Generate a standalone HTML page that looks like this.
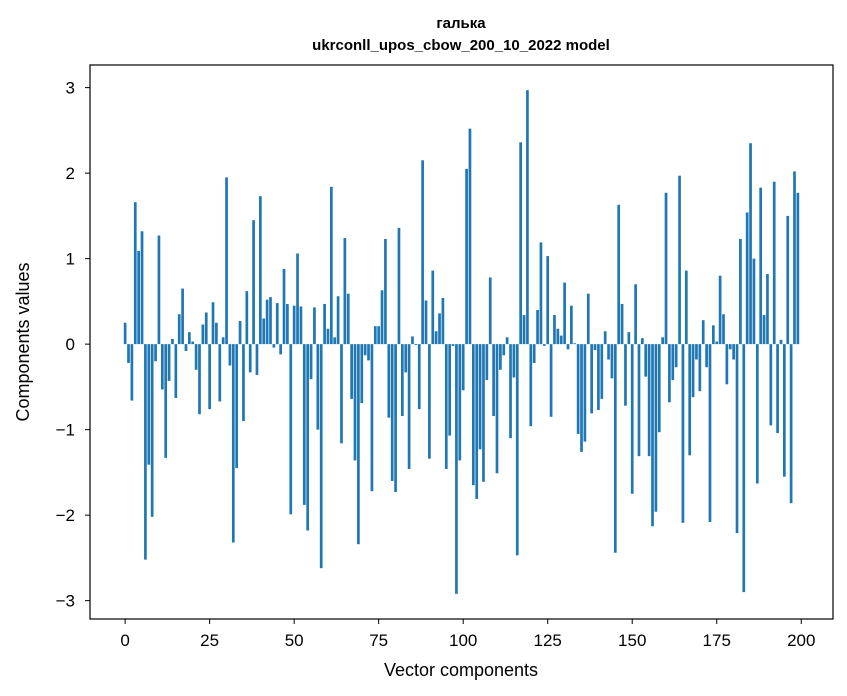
<!DOCTYPE html>
<html><head><meta charset="utf-8"><style>
body{margin:0;background:#fff;width:847px;height:696px;overflow:hidden}
svg{display:block;font-family:"Liberation Sans",sans-serif}
</style></head><body>
<svg id="chart" width="847" height="696">
<text x="461" y="28" text-anchor="middle" font-size="15" font-weight="bold">галька</text>
<text x="461" y="50" text-anchor="middle" font-size="15" font-weight="bold">ukrconll_upos_cbow_200_10_2022 model</text>
<g id="bars"></g>
<g id="axes"></g>
<text x="461" y="676" text-anchor="middle" font-size="18">Vector components</text>
<text transform="translate(29,342) rotate(-90)" text-anchor="middle" font-size="18">Components values</text>
</svg>
<script>
const values = [0.25,-0.22,-0.66,1.66,1.09,1.32,-2.52,-1.41,-2.02,-0.20,
1.27,-0.53,-1.33,-0.43,0.06,-0.63,0.35,0.65,-0.08,0.14,
0.03,-0.30,-0.82,0.23,0.37,-0.76,0.49,0.25,-0.67,0.08,
1.95,-0.25,-2.32,-1.45,0.27,-0.90,0.62,-0.33,1.45,-0.36,
1.73,0.30,0.52,0.55,-0.04,0.48,-0.12,0.88,0.47,-1.99,
0.45,1.06,0.44,-1.88,-2.18,-0.41,0.43,-1.00,-2.62,0.47,
0.18,1.84,0.08,0.56,-1.16,1.24,0.59,-0.64,-1.36,-2.34,
-0.69,-0.13,-0.19,-1.72,0.21,0.21,0.63,1.23,-0.86,-1.60,
-1.73,1.36,-0.84,-0.33,-1.46,0.09,-0.01,-0.76,2.15,0.51,
-1.34,0.86,0.15,0.36,0.54,-1.46,-1.07,-0.02,-2.92,-1.36,
-0.54,2.05,2.52,-1.65,-1.81,-1.23,-1.61,-0.42,0.78,-0.84,
-1.51,-0.30,-0.13,0.08,-1.10,-0.39,-2.47,2.36,0.34,2.97,
-0.96,-0.22,0.40,1.19,-0.02,1.03,-0.85,0.34,0.18,0.10,
0.72,-0.06,0.45,0.01,-1.05,-1.26,-1.14,0.59,-0.81,-0.07,
-0.77,-0.64,0.15,-0.18,-0.40,-2.44,1.63,0.47,-0.72,0.14,
-1.75,0.70,-1.31,0.07,-0.38,-1.31,-2.13,-1.96,-1.03,0.08,
1.77,-0.68,-0.42,-0.27,1.97,-2.09,0.86,-1.30,-0.62,-0.18,
-0.55,0.28,-0.27,-2.08,0.22,0.03,0.80,0.35,-0.47,-0.06,
-0.18,-2.21,1.23,-2.90,1.54,2.35,1.00,-1.63,1.83,0.34,
0.82,-0.95,1.90,-1.04,0.05,-1.55,1.50,-1.86,2.02,1.77];
const xTicks = [0,25,50,75,100,125,150,175,200];
const yTicks = [-3,-2,-1,0,1,2,3];
const yTickLabels = ["\u22123","\u22122","\u22121","0","1","2","3"];

const L=90,R=833,T=65,B=619;
const n=values.length;
const xMin=-0.4-0.05*(n-1+0.8), xMax=n-1+0.4+0.05*(n-1+0.8);
const vMin=Math.min(0,...values), vMax=Math.max(0,...values);
const pad=(vMax-vMin)*0.05;
const yMin=vMin-pad, yMax=vMax+pad;
const sx=v=>L+(v-xMin)/(xMax-xMin)*(R-L);
const sy=v=>B-(v-yMin)/(yMax-yMin)*(B-T);
const NS="http://www.w3.org/2000/svg";
const bars=document.getElementById('bars');
values.forEach((v,i)=>{
  const r=document.createElementNS(NS,'rect');
  const x0=sx(i-0.4), x1=sx(i+0.4);
  r.setAttribute('x',x0);r.setAttribute('width',x1-x0);
  r.setAttribute('y',Math.min(sy(v),sy(0)));
  r.setAttribute('height',Math.abs(sy(v)-sy(0)));
  r.setAttribute('fill','#1f77b4');
  
  
  bars.appendChild(r);
});
const ax=document.getElementById('axes');
const frame=document.createElementNS(NS,'rect');
frame.setAttribute('x',L);frame.setAttribute('y',T);frame.setAttribute('width',R-L);frame.setAttribute('height',B-T);
frame.setAttribute('fill','none');frame.setAttribute('stroke','#000');frame.setAttribute('stroke-width','1.2');


ax.appendChild(frame);
xTicks.forEach(t=>{
  const x=sx(t);
  const l=document.createElementNS(NS,'line');
  l.setAttribute('x1',x);l.setAttribute('x2',x);l.setAttribute('y1',B);l.setAttribute('y2',B+5);l.setAttribute('stroke','#000');
  
  
  ax.appendChild(l);
  const tx=document.createElementNS(NS,'text');
  tx.setAttribute('x',x);tx.setAttribute('y',B+27);tx.setAttribute('text-anchor','middle');tx.setAttribute('font-size','17');
  tx.textContent=t;
  
  
  ax.appendChild(tx);
});
yTicks.forEach((t,k)=>{
  const y=sy(t);
  const l=document.createElementNS(NS,'line');
  l.setAttribute('x1',L-5);l.setAttribute('x2',L);l.setAttribute('y1',y);l.setAttribute('y2',y);l.setAttribute('stroke','#000');
  
  
  ax.appendChild(l);
  const tx=document.createElementNS(NS,'text');
  tx.setAttribute('x',L-15);tx.setAttribute('y',y+6);tx.setAttribute('text-anchor','end');tx.setAttribute('font-size','17');
  tx.textContent=yTickLabels[k];
  
  
  ax.appendChild(tx);
});
</script>
</body></html>
